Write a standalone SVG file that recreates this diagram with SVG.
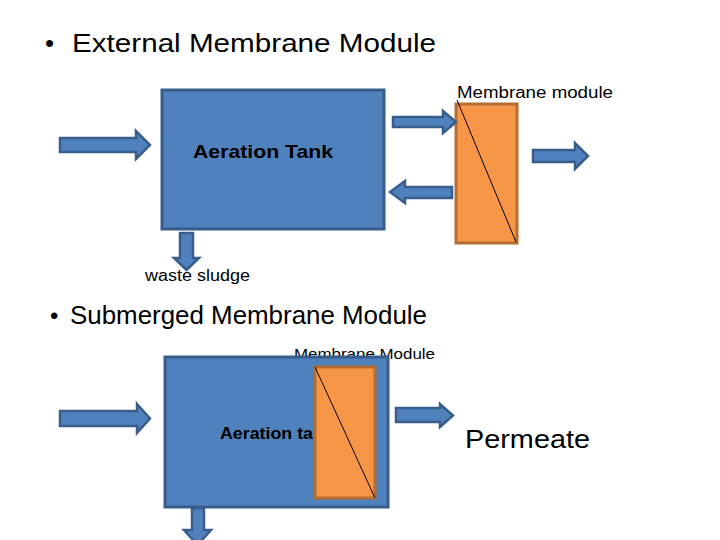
<svg xmlns="http://www.w3.org/2000/svg" width="720" height="540" viewBox="0 0 720 540">
<style>
.t{font-family:"Liberation Sans",Arial,sans-serif;fill:#000}
.tank{fill:#4F81BD;stroke:#385D8A;stroke-width:3}
.mem{fill:#F79646;stroke:#B66D31;stroke-width:3}
.arr{fill:#4F81BD;stroke:#385D8A;stroke-width:2.5;stroke-linejoin:miter}
.diag{stroke:#000;stroke-width:1;fill:none}
</style>
<rect width="720" height="540" fill="#fff"/>
<text class="t" x="45" y="52" font-size="26">•</text>
<text class="t" x="72" y="52" font-size="26" textLength="364" lengthAdjust="spacingAndGlyphs">External Membrane Module</text>
<text class="t" x="50" y="324" font-size="24">•</text>
<text class="t" x="70" y="324" font-size="25" textLength="357" lengthAdjust="spacingAndGlyphs">Submerged Membrane Module</text>

<g id="aeration-tank-1">
<rect class="tank" x="162" y="90" width="222" height="139"/>
<text class="t" x="193" y="158" font-size="19" font-weight="bold" textLength="140" lengthAdjust="spacingAndGlyphs">Aeration Tank</text>
</g>
<g id="membrane-module-1">
<rect class="mem" x="456" y="104" width="61" height="139"/>
<line class="diag" x1="457" y1="100" x2="516" y2="242"/>
<text class="t" x="457" y="98" font-size="16" textLength="156" lengthAdjust="spacingAndGlyphs">Membrane module</text>
</g>
<g id="waste-sludge-label">
<text class="t" x="145" y="281" font-size="16" textLength="105" lengthAdjust="spacingAndGlyphs">waste sludge</text>
</g>

<g id="membrane-module-2-label">
<text class="t" x="294" y="359" font-size="15" textLength="141" lengthAdjust="spacingAndGlyphs">Membrane Module</text>
</g>
<g id="aeration-tank-2">
<rect class="tank" x="165" y="357" width="223" height="150"/>
<text class="t" x="220" y="439" font-size="16.5" font-weight="bold" textLength="93" lengthAdjust="spacingAndGlyphs">Aeration ta</text>
</g>
<g id="membrane-module-2">
<rect class="mem" x="315" y="367" width="60" height="131"/>
<line class="diag" x1="315" y1="367" x2="375" y2="498"/>
</g>
<g id="permeate-label">
<text class="t" x="465" y="448" font-size="26" textLength="125" lengthAdjust="spacingAndGlyphs">Permeate</text>
</g>

<g id="connectors">
<polygon class="arr" points="60,138 136,138 136,131 150,145 136,159 136,152 60,152"/>
<polygon class="arr" points="393,117 443,117 443,111 456,122 443,133 443,127 393,127"/>
<polygon class="arr" points="452,187 405,187 405,181 390,192 405,203 405,198 452,198"/>
<polygon class="arr" points="533,150 575,150 575,143 588,156 575,169 575,162 533,162"/>
<polygon class="arr" points="180,233 193,233 193,258 199,258 186.5,270 174,258 180,258"/>
<polygon class="arr" points="60,411 137,411 137,404 150,418.5 137,433 137,426 60,426"/>
<polygon class="arr" points="396,408 440,408 440,404 453,415.5 440,427 440,422 396,422"/>
<polygon class="arr" points="192,508 204,508 204,530 211,530 197.5,545 184,530 192,530"/>
</g>
</svg>
